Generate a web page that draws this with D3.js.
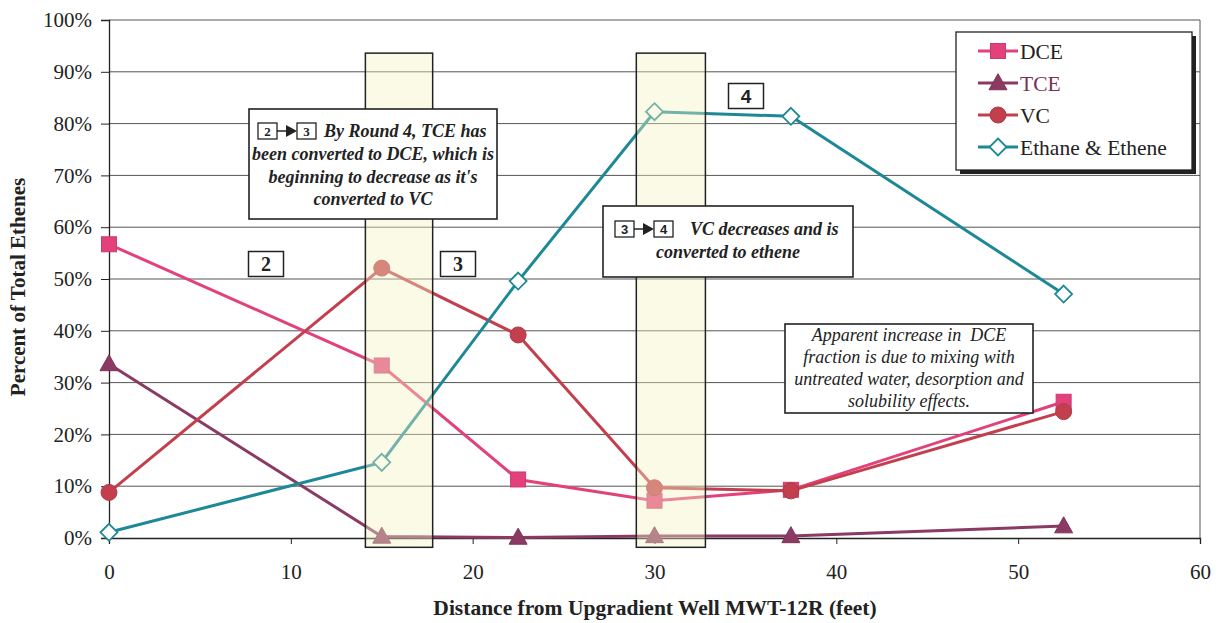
<!DOCTYPE html>
<html>
<head>
<meta charset="utf-8">
<script src="https://cdn.jsdelivr.net/npm/d3@7/dist/d3.min.js"></script>
<style>
  html, body { margin: 0; padding: 0; background: #fff; }
  svg { display: block; }
  svg text { font-family: "Liberation Serif", Tinos, "Times New Roman", Times, serif; }
</style>
</head>
<body>
<svg id="chart" width="1219" height="623"></svg>
<script>
// ---- data ----
const distances = [0, 15, 22.5, 30, 37.5, 52.5];
const dce    = [56.7, 33.3, 11.3, 7.2, 9.3, 26.3];
const tce    = [33.6, 0.3, 0.1, 0.4, 0.4, 2.3];
const vc     = [8.8, 52.1, 39.2, 9.7, 9.1, 24.4];
const ethane = [1.1, 14.6, 49.6, 82.3, 81.4, 47.1];
const seriesNames = ["DCE", "TCE", "VC", "Ethane & Ethene"];
const xTicks = [0, 10, 20, 30, 40, 50, 60];
const yTicks = [0, 10, 20, 30, 40, 50, 60, 70, 80, 90, 100];
// highlighted bands (distance ranges, feet)
const bands = [[14.1, 17.8], [29.0, 32.8]];

// ---- styles ----
const colors = { "DCE": "#e2417c", "TCE": "#8a3a63", "VC": "#c43f4d", "Ethane & Ethene": "#1d8896" };
const shapes = { "DCE": "square", "TCE": "triangle", "VC": "circle", "Ethane & Ethene": "diamond" };
const SANS = "'Liberation Sans', Arimo, Arial, sans-serif";

const svg = d3.select("#chart");
const x = d3.scaleLinear().domain([0, 60]).range([109, 1200]);
const y = d3.scaleLinear().domain([0, 100]).range([538, 20]);

// gridlines
svg.append("g").selectAll("line").data(yTicks.filter(d => d > 0)).join("line")
  .attr("x1", x(0)).attr("x2", x(60))
  .attr("y1", d => y(d)).attr("y2", d => y(d))
  .attr("stroke", "#555").attr("stroke-width", 1);
svg.append("line").attr("x1", x(60)).attr("x2", x(60)).attr("y1", y(100)).attr("y2", y(0))
  .attr("stroke", "#555").attr("stroke-width", 1);

// axes
const yAxis = d3.axisLeft(y).tickValues(yTicks).tickFormat(d => d + "%").tickSize(8).tickPadding(9);
const gy = svg.append("g").attr("transform", `translate(${x(0)},0)`).call(yAxis);
gy.attr("font-family", null);
gy.select(".domain").attr("stroke", "#222").attr("stroke-width", 1.3);
gy.selectAll(".tick line").attr("stroke", "#222");
gy.selectAll("text").attr("font-size", 21).attr("fill", "#222");

const xAxis = d3.axisBottom(x).tickValues(xTicks).tickSize(6).tickPadding(20);
const gx = svg.append("g").attr("transform", `translate(0,${y(0)})`).call(xAxis);
gx.attr("font-family", null);
gx.select(".domain").attr("stroke", "#222").attr("stroke-width", 1.3);
gx.selectAll(".tick line").attr("stroke", "#222");
gx.selectAll("text").attr("font-size", 21).attr("fill", "#222");

// axis titles
svg.append("text").attr("x", 655).attr("y", 615).attr("text-anchor", "middle")
  .attr("font-weight", "bold").attr("font-size", 21.5).attr("fill", "#222")
  .text("Distance from Upgradient Well MWT-12R (feet)");
svg.append("text").attr("transform", `translate(25,${y(50) + 8}) rotate(-90)`).attr("text-anchor", "middle")
  .attr("font-weight", "bold").attr("font-size", 21).attr("fill", "#222")
  .text("Percent of Total Ethenes");

// series
const seriesData = [dce, tce, vc, ethane];
const line = d3.line().x((d, i) => x(distances[i])).y(d => y(d));

function marker(g, shape, color, cx, cy, s) {
  if (shape === "square") {
    g.append("rect").attr("x", cx - s / 2).attr("y", cy - s / 2).attr("width", s).attr("height", s)
      .attr("fill", color).attr("stroke", d3.color(color).darker(0.3)).attr("stroke-width", 1);
  } else if (shape === "triangle") {
    g.append("path").attr("d", `M${cx},${cy - s * 0.62}L${cx + s * 0.6},${cy + s * 0.45}L${cx - s * 0.6},${cy + s * 0.45}Z`)
      .attr("fill", color).attr("stroke", d3.color(color).darker(0.3)).attr("stroke-width", 1);
  } else if (shape === "circle") {
    g.append("circle").attr("cx", cx).attr("cy", cy).attr("r", s / 2 + 0.5)
      .attr("fill", color).attr("stroke", d3.color(color).darker(0.3)).attr("stroke-width", 1);
  } else {
    const r = s / 2 + 1;
    g.append("path").attr("d", `M${cx},${cy - r}L${cx + r},${cy}L${cx},${cy + r}L${cx - r},${cy}Z`)
      .attr("fill", "#fff").attr("stroke", color).attr("stroke-width", 1.8);
  }
}

seriesNames.forEach((name, k) => {
  const g = svg.append("g");
  g.append("path").datum(seriesData[k]).attr("d", line)
    .attr("fill", "none").attr("stroke", colors[name]).attr("stroke-width", 3);
  seriesData[k].forEach((v, i) => marker(g, shapes[name], colors[name], x(distances[i]), y(v), 15));
});

// bands (semi-transparent overlay)
bands.forEach(b => {
  svg.append("rect").attr("x", x(b[0])).attr("y", y(93.6)).attr("width", x(b[1]) - x(b[0]))
    .attr("height", y(-1.8) - y(93.6))
    .attr("fill", "#f4f2c4").attr("fill-opacity", 0.4).attr("stroke", "#222").attr("stroke-width", 1.5);
});

// number boxes
function numBox(cx, cy, label, w, h, fs, fam) {
  svg.append("rect").attr("x", cx - w / 2).attr("y", cy - h / 2).attr("width", w).attr("height", h)
    .attr("fill", "#fff").attr("stroke", "#222").attr("stroke-width", 1.5);
  const t = svg.append("text").attr("x", cx).attr("y", cy).attr("dy", "0.35em").attr("text-anchor", "middle")
    .attr("font-weight", "bold").attr("font-size", fs).attr("fill", "#222").text(label);
  if (fam) t.style("font-family", fam);
}
numBox(266, 264, "2", 35, 25, 20);
numBox(458, 264, "3", 35, 25, 20);
numBox(746, 96, "4", 35, 25, 19, SANS);

// annotation boxes
function annBox(x0, y0, w, h) {
  svg.append("rect").attr("x", x0).attr("y", y0).attr("width", w).attr("height", h)
    .attr("fill", "#fff").attr("stroke", "#222").attr("stroke-width", 1.6);
}
function smallArrow(xs, cy, a, b, fam) {
  const bw = 19, bh = 16;
  const x2 = xs + bw + 20;
  [[xs, a], [x2, b]].forEach(([bx, lab]) => {
    svg.append("rect").attr("x", bx).attr("y", cy - bh / 2).attr("width", bw).attr("height", bh)
      .attr("fill", "#fff").attr("stroke", "#222").attr("stroke-width", 1.3);
    const t = svg.append("text").attr("x", bx + bw / 2).attr("y", cy).attr("dy", "0.36em").attr("text-anchor", "middle")
      .attr("font-weight", "bold").attr("font-size", 13).attr("fill", "#222").text(lab);
    if (fam) t.style("font-family", fam);
  });
  svg.append("line").attr("x1", xs + bw).attr("x2", x2 - 8).attr("y1", cy).attr("y2", cy).attr("stroke", "#222").attr("stroke-width", 1.5);
  svg.append("path").attr("d", `M${x2 - 11},${cy - 6}L${x2},${cy}L${x2 - 11},${cy + 6}Z`).attr("fill", "#222");
  return x2 + bw;
}

const annFont = 18;
annBox(249, 109, 248, 110);
const endA = smallArrow(258, 131, "2", "3");
svg.append("text").attr("x", endA + 8).attr("y", 131).attr("dy", "0.35em")
  .attr("font-weight", "bold").attr("font-style", "italic").attr("font-size", annFont).attr("fill", "#222")
  .text("By Round 4, TCE has");
["been converted to DCE, which is", "beginning to decrease as it's", "converted to VC"].forEach((t, i) => {
  svg.append("text").attr("x", 373).attr("y", 154 + i * 22.5).attr("dy", "0.35em").attr("text-anchor", "middle")
    .attr("font-weight", "bold").attr("font-style", "italic").attr("font-size", annFont).attr("fill", "#222").text(t);
});

annBox(603, 206, 250, 71);
const endB = smallArrow(615, 229, "3", "4", SANS);
svg.append("text").attr("x", endB + 17).attr("y", 229).attr("dy", "0.35em")
  .attr("font-weight", "bold").attr("font-style", "italic").attr("font-size", annFont).attr("fill", "#222")
  .text("VC decreases and is");
svg.append("text").attr("x", 728).attr("y", 252).attr("dy", "0.35em").attr("text-anchor", "middle")
  .attr("font-weight", "bold").attr("font-style", "italic").attr("font-size", annFont).attr("fill", "#222")
  .text("converted to ethene");

annBox(785, 324, 248, 89);
["Apparent increase in\u00a0 DCE", "fraction is due to mixing with", "untreated water, desorption and", "solubility effects."].forEach((t, i) => {
  svg.append("text").attr("x", 909).attr("y", 335 + i * 22).attr("dy", "0.35em").attr("text-anchor", "middle")
    .attr("font-style", "italic").attr("font-size", annFont).attr("fill", "#222").text(t);
});

// legend
const lg = svg.append("g");
lg.append("rect").attr("x", 960).attr("y", 36).attr("width", 236).attr("height", 138).attr("fill", "#222");
lg.append("rect").attr("x", 956).attr("y", 32).attr("width", 236).attr("height", 138)
  .attr("fill", "#fff").attr("stroke", "#222").attr("stroke-width", 1.3);
seriesNames.forEach((name, i) => {
  const cy = 51 + i * 32;
  lg.append("line").attr("x1", 978).attr("x2", 1018).attr("y1", cy).attr("y2", cy)
    .attr("stroke", colors[name]).attr("stroke-width", 3);
  marker(lg, shapes[name], colors[name], 998, cy, 15);
  lg.append("text").attr("x", 1020).attr("y", cy).attr("dy", "0.35em").attr("font-size", 21.5)
    .attr("fill", name === "TCE" ? "#7a2f55" : "#222").text(name);
});
</script>
</body>
</html>
